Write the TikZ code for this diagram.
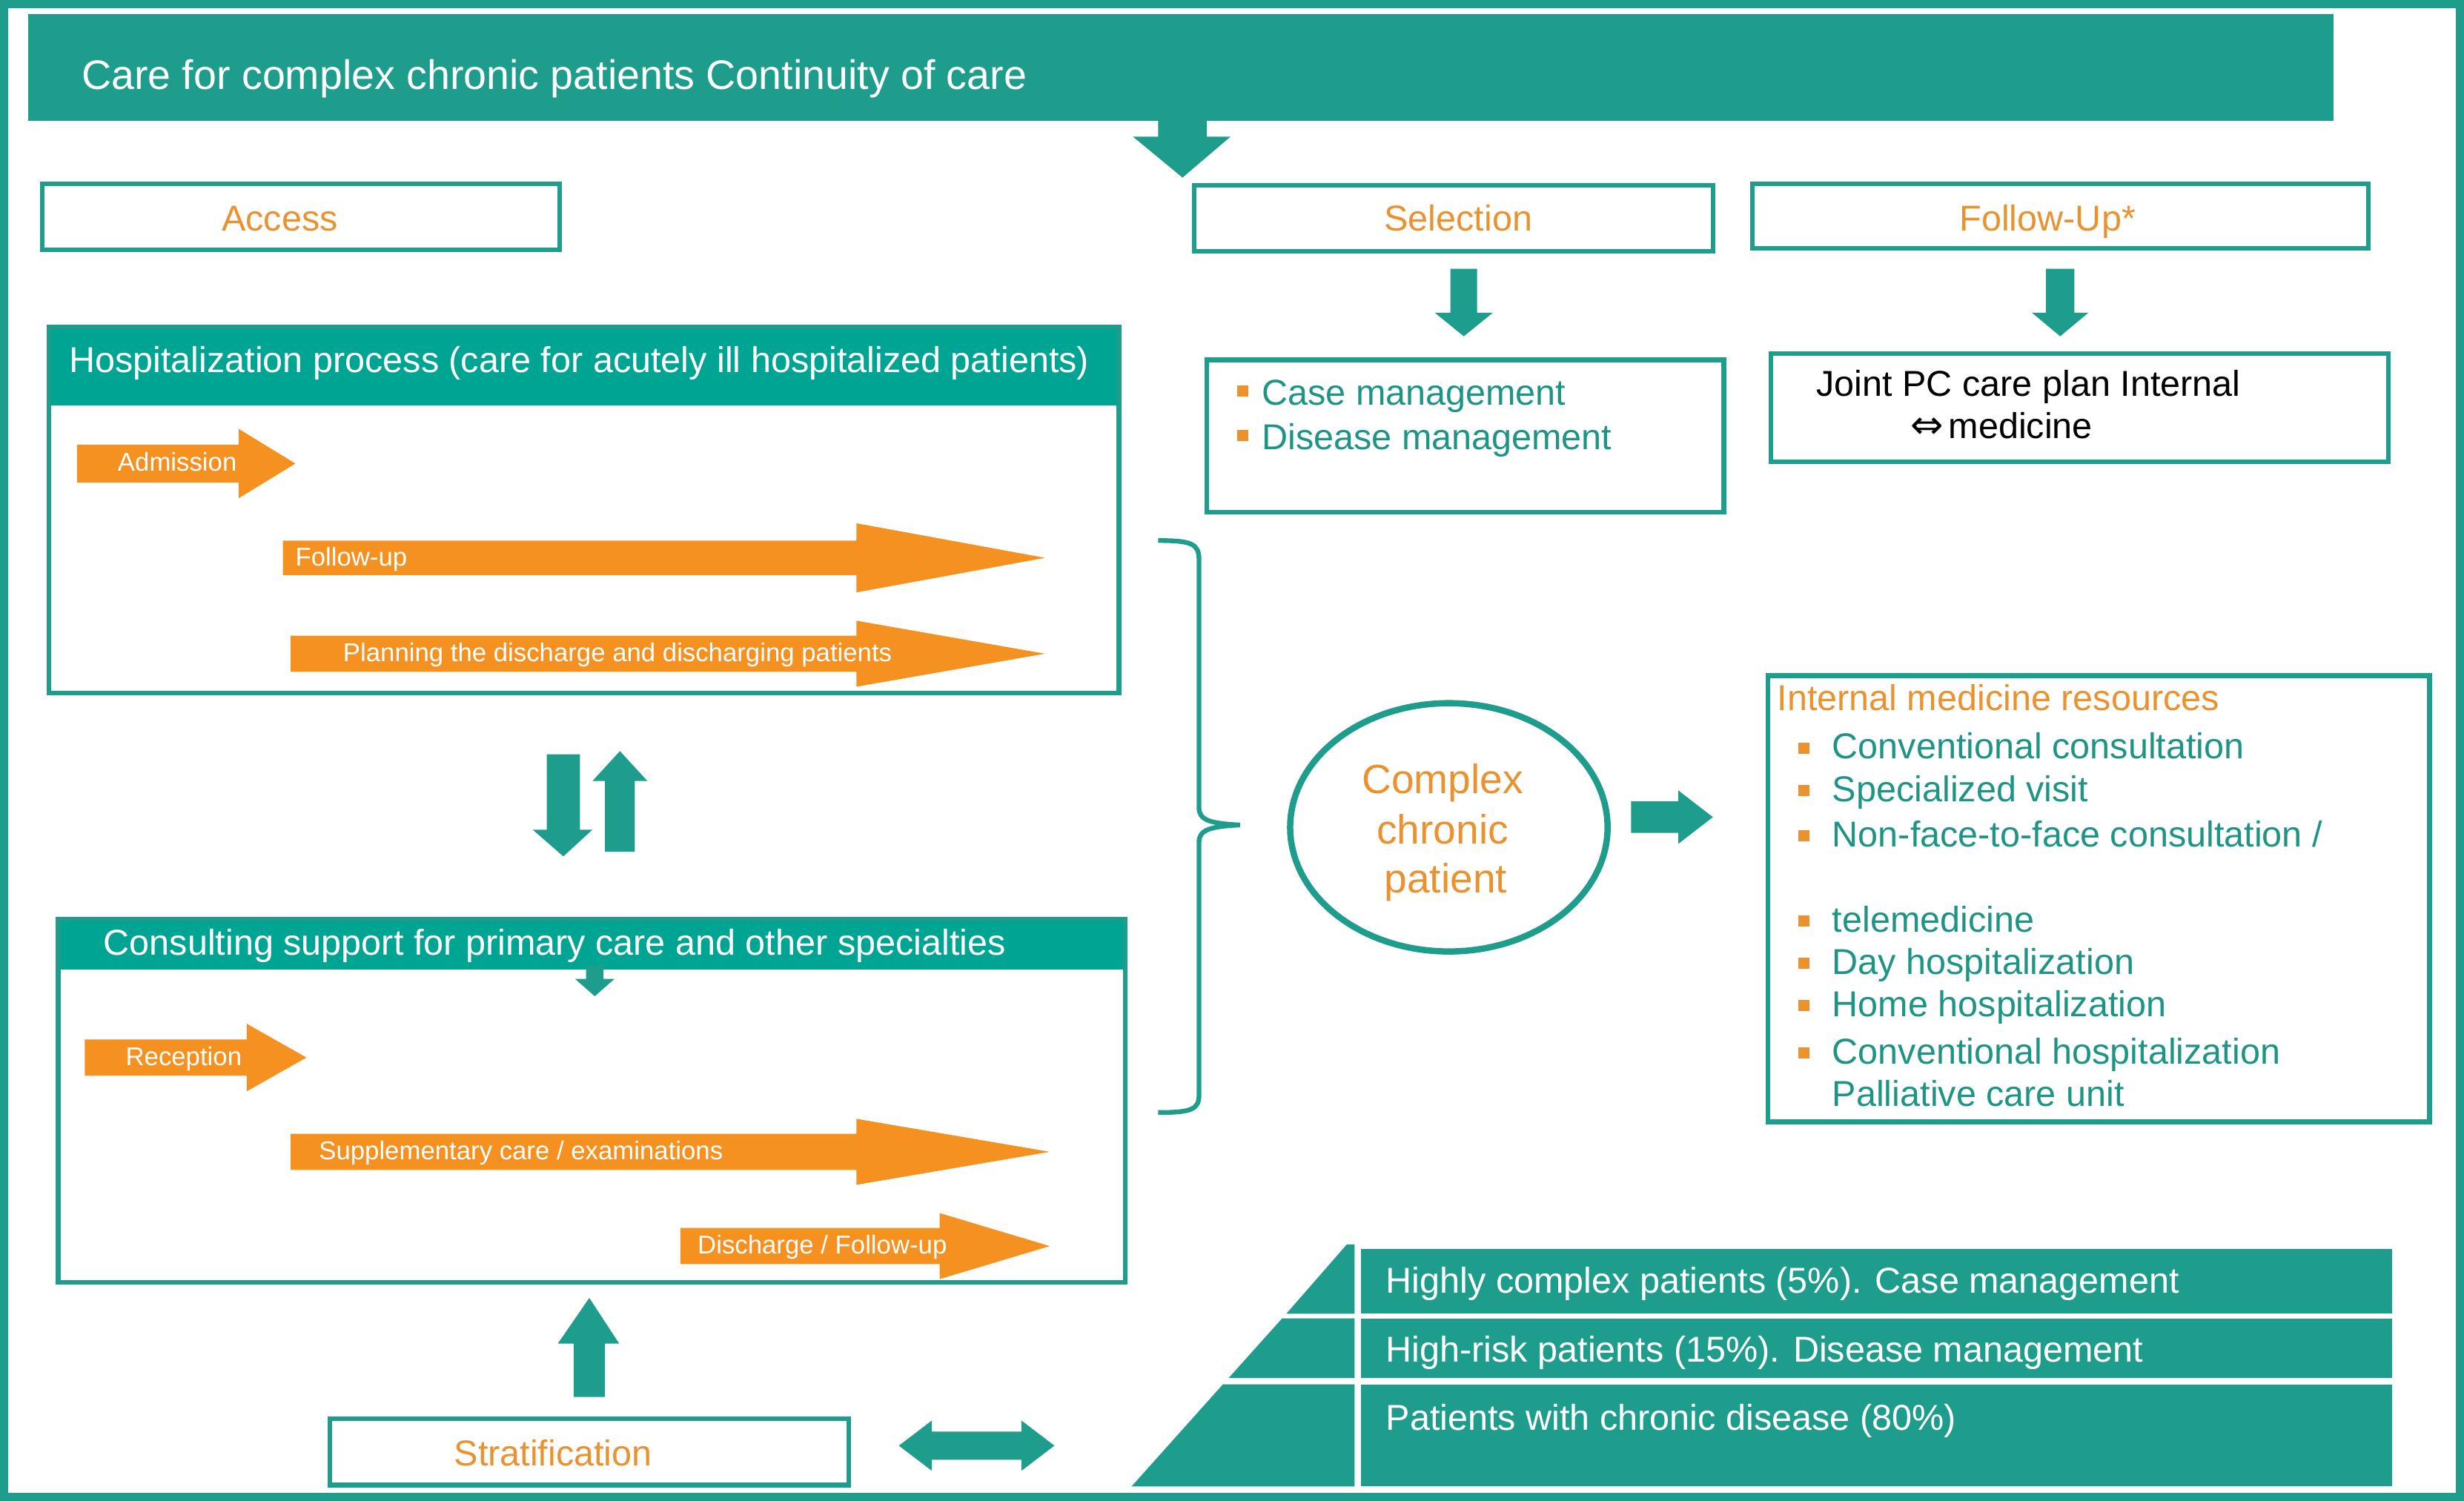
\documentclass[tikz,border=0pt]{standalone}
\usepackage{fontspec}
\setmainfont{Liberation Sans}
\newfontfamily\arrowsymfont{DejaVu Sans}
\usetikzlibrary{shapes.geometric}
\definecolor{tealC}{RGB}{31,157,140}
\definecolor{tealH}{RGB}{0,164,146}
\definecolor{tealT}{RGB}{30,148,133}
\definecolor{orangeT}{RGB}{234,146,48}
\definecolor{orangeA}{RGB}{244,145,32}
% x0, x1, xtip, yc, half body, half head
\newcommand\oarrowshape[6]{%
  \fill[orangeA] (#1,#4-#5) -- (#2,#4-#5) -- (#2,#4-#6) -- (#3,#4) -- (#2,#4+#6) -- (#2,#4+#5) -- (#1,#4+#5) -- cycle;}
\newcommand\obullet[2]{\fill[orangeT] (#1-3.5,#2-3.5) rectangle (#1+3.5,#2+3.5);}
\begin{document}
\begin{tikzpicture}[x=0.5pt,y=-0.5pt,
  every node/.style={inner sep=0pt,outer sep=0pt},
  mainf/.style={font=\fontsize{11.45pt}{14pt}\selectfont},
  tbox/.style={draw=tealC,line width=1.5pt},
  hd/.style={mainf,text=orangeT,anchor=base},
  item/.style={mainf,text=tealT,anchor=base west},
  wt/.style={mainf,text=white,anchor=base west},
  arrl/.style={font=\fontsize{8.2pt}{10pt}\selectfont,text=white,anchor=base west},
  tarrow/.style={fill=tealC}
]
\useasboundingbox (0,0) rectangle (1568,955);
% outer frame
\draw[tealC,line width=2.5pt] (2.5,2.5) rectangle (1565.5,952.5);

% title banner
\fill[tealC] (18,9) rectangle (1485,77);
\node[anchor=base west,text=white,font=\fontsize{13.1pt}{16pt}\selectfont] (title) at (52,57) {Care for complex chronic patients Continuity of care};
\fill[tarrow] (737,76) -- (768,76) -- (768,87) -- (783,87) -- (752.5,113) -- (721,87) -- (737,87) -- cycle;

% top boxes
\draw[tbox] (27,117) rectangle (356,159);
\node[hd] (access) at (178,147) {Access};
\draw[tbox] (760,118) rectangle (1090,160);
\node[hd] (selection) at (928,147) {Selection};
\draw[tbox] (1115,117) rectangle (1507,158);
\node[hd] (followup) at (1303,147) {Follow-Up*};

% down arrows
\fill[tarrow] (923,171) -- (940,171) -- (940,199) -- (950,199) -- (931.5,214) -- (913,199) -- (923,199) -- cycle;
\fill[tarrow] (1302,171) -- (1320,171) -- (1320,199) -- (1329,199) -- (1311,214) -- (1293,199) -- (1302,199) -- cycle;

% case management box
\draw[tbox] (768,229) rectangle (1097,326);
\obullet{791}{249}
\obullet{791}{277}
\node[item] (casem) at (803,258) {Case management};
\node[item] (diseasem) at (803,286) {Disease management};

% joint PC box
\draw[tbox] (1127,225) rectangle (1520,294);
\node[mainf,anchor=base west] (joint1) at (1156,252) {Joint PC care plan Internal};
\node[mainf,anchor=base west] (joint2) at (1216,279) {{\arrowsymfont\fontsize{12.5pt}{14pt}\selectfont ⇔}\kern1.5pt medicine};

% hospitalization box
\fill[tealH] (31,208) rectangle (712,258);
\draw[tbox] (31,208) rectangle (712,441);
\node[wt] (hosp) at (44,237) {Hospitalization process (care for acutely ill hospitalized patients)};
\oarrowshape{49}{152}{188}{295}{12}{22}
\node[arrl] (admission) at (75,300) {Admission};
\oarrowshape{180}{545}{665}{355}{11}{22}
\node[arrl] (fup) at (188,360) {Follow-up};
\oarrowshape{185}{545}{665}{416}{11.5}{21}
\node[arrl,anchor=base] (planning) at (393,421) {Planning the discharge and discharging patients};

% double arrows between boxes
\fill[tarrow] (348,480) -- (369,480) -- (369,528) -- (377,528) -- (358.5,545) -- (339,528) -- (348,528) -- cycle;
\fill[tarrow] (385,542) -- (404,542) -- (404,497) -- (412,497) -- (394.5,478) -- (377,497) -- (385,497) -- cycle;

% consulting box
\fill[tealH] (37,585) rectangle (716,617);
\draw[tbox] (37,585) rectangle (716,816);
\node[wt] (consult) at (66,608) {Consulting support for primary care and other specialties};
\fill[tarrow] (373,614) -- (384,614) -- (384,623) -- (391,623) -- (378.5,634) -- (366,623) -- (373,623) -- cycle;
\oarrowshape{54}{157}{195}{673}{11.5}{21.5}
\node[arrl] (reception) at (80,678) {Reception};
\oarrowshape{185}{545}{668}{733}{11.5}{21}
\node[arrl] (suppl) at (203,738) {Supplementary care / examinations};
\oarrowshape{433}{598}{668}{793}{11.5}{21}
\node[arrl] (discharge) at (444,798) {Discharge / Follow-up};

% stratification
\fill[tarrow] (365,889) -- (385,889) -- (385,855) -- (394,855) -- (375,826) -- (355,855) -- (365,855) -- cycle;
\draw[tbox] (210,903) rectangle (540,945);
\node[hd] (strat) at (352,933) {Stratification};
\fill[tarrow] (572,920) -- (593,904) -- (593,911) -- (650,911) -- (650,904) -- (671,920) -- (650,936) -- (650,929) -- (593,929) -- (593,936) -- cycle;

% brace
\draw[tealC,line width=1.5pt] (737,344) .. controls (758,344) and (763,346) .. (763,356) -- (763,514) .. controls (763,522) and (770,524) .. (789,525) .. controls (770,526) and (763,528) .. (763,536) -- (763,697) .. controls (763,706) and (758,708) .. (737,708);

% complex chronic patient
\node[draw=tealC,line width=2pt,ellipse,minimum width=101pt,minimum height=79pt] (cp) at (922,526.5) {};
\node[font=\fontsize{13pt}{16pt}\selectfont,text=orangeT,anchor=base] (cp1) at (918,505) {Complex};
\node[font=\fontsize{13pt}{16pt}\selectfont,text=orangeT,anchor=base] (cp2) at (918,537) {chronic};
\node[font=\fontsize{13pt}{16pt}\selectfont,text=orangeT,anchor=base] (cp3) at (920,568) {patient};
\fill[tarrow] (1038,510) -- (1068,510) -- (1068,503) -- (1090,520) -- (1068,537) -- (1068,530) -- (1038,530) -- cycle;

% internal medicine resources
\draw[tbox] (1125,430) rectangle (1546,714);
\node[mainf,text=orangeT,anchor=base west] (imr) at (1131,452) {Internal medicine resources};
\obullet{1148}{476}
\obullet{1148}{503}
\obullet{1148}{532}
\obullet{1148}{586}
\obullet{1148}{613}
\obullet{1148}{640}
\obullet{1148}{670}
\node[item] (r1) at (1166,483) {Conventional consultation};
\node[item] (r2) at (1166,510) {Specialized visit};
\node[item] (r3) at (1166,539) {Non-face-to-face consultation /};
\node[item] (r4) at (1166,593) {telemedicine};
\node[item] (r5) at (1166,620) {Day hospitalization};
\node[item] (r6) at (1166,647) {Home hospitalization};
\node[item] (r7) at (1166,677) {Conventional hospitalization};
\node[item] (r8) at (1166,704) {Palliative care unit};

% pyramid
\fill[tealC] (857,792) -- (862,792) -- (862,836) -- (818.6,836) -- cycle;
\fill[tealC] (815.9,839) -- (862,839) -- (862,877) -- (781.8,877) -- cycle;
\fill[tealC] (778.2,881) -- (862,881) -- (862,946) -- (720,946) -- cycle;
\fill[tealC] (866,795) rectangle (1522,836);
\fill[tealC] (866,839) rectangle (1522,877);
\fill[tealC] (866,881) rectangle (1522,946);
\node[wt] (p1) at (882,823) {Highly complex patients (5\%). Case management};
\node[wt] (p2) at (882,867) {High-risk patients (15\%). Disease management};
\node[wt] (p3) at (882,910) {Patients with chronic disease (80\%)};
\end{tikzpicture}
\end{document}
